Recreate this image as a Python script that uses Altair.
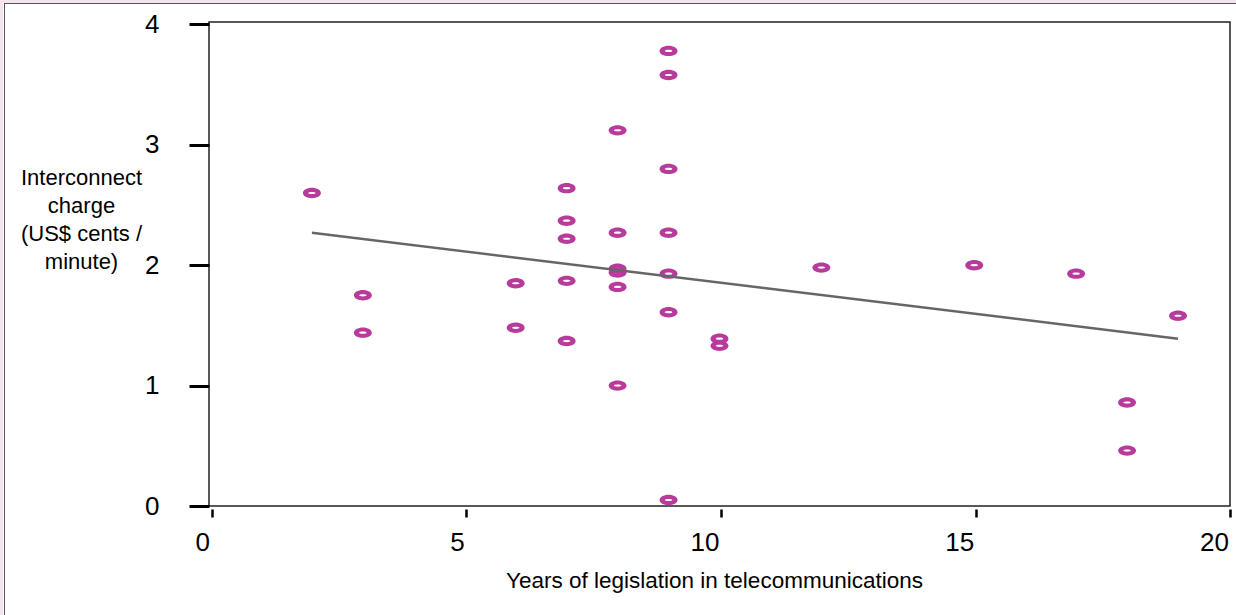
import altair as alt
import pandas as pd

# Values
years = [2, 3, 3, 6, 6, 7, 7, 7, 7, 7, 8, 8, 8, 8, 8, 8,
         9, 9, 9, 9, 9, 9, 9, 10, 10, 12, 15, 17, 18, 18, 19]
charge = [2.60, 1.75, 1.44, 1.85, 1.48, 2.64, 2.37, 2.22, 1.87, 1.37,
          3.12, 2.27, 1.97, 1.94, 1.82, 1.00,
          3.78, 3.58, 2.80, 2.27, 1.93, 1.61, 0.05,
          1.39, 1.33, 1.98, 2.00, 1.93, 0.86, 0.46, 1.58]
fit_years = [2, 19]
fit_charge = [2.27, 1.39]

x_ticks = [0, 5, 10, 15, 20]
y_ticks = [0, 1, 2, 3, 4]
x_title = "Years of legislation in telecommunications"
y_title = ["Interconnect", "charge", "(US$ cents /", "minute)"]

pts = pd.DataFrame({"years": years, "charge": charge})
fit = pd.DataFrame({"years": fit_years, "charge": fit_charge})
one = pd.DataFrame({"a": [0]})

FONT = "Liberation Sans"
xscale = alt.Scale(domain=[-0.02, 20.02], nice=False, zero=False)
yscale = alt.Scale(domain=[0, 4.02], nice=False)

xaxis = alt.Axis(values=x_ticks, title=x_title, domain=False, grid=False,
                 offset=3, tickSize=8, tickWidth=2.5, tickColor="#000000",
                 tickOffset=1.5,
                 labelAlign="right", labelOffset=-2, labelBaseline="top",
                 labelPadding=12, labelFontSize=26, labelColor="#000000",
                 labelFont=FONT, labelFlush=False, labelOverlap=False,
                 titleFont=FONT, titleFontSize=22.5, titleFontWeight="normal",
                 titleColor="#000000", titleX=505, titleY=78,
                 titleAlign="center", titleBaseline="alphabetic")
yaxis = alt.Axis(values=y_ticks, title=y_title, domain=False, grid=False,
                 format="d",
                 tickSize=20, tickWidth=3, tickColor="#000000",
                 labelPadding=30, labelFontSize=26, labelColor="#000000",
                 labelFont=FONT, labelBaseline="middle", labelFlush=False,
                 labelOverlap=False,
                 titleFont=FONT, titleFontSize=22, titleFontWeight="normal",
                 titleColor="#000000", titleAngle=0, titleAlign="center",
                 titleBaseline="alphabetic", titleX=-128, titleY=162,
                 titleLineHeight=28)

# filled elliptical ring (outer ellipse with a small inner hole drawn the other way)
ring = ("M-1,0A1,0.58,0,1,1,1,0A1,0.58,0,1,1,-1,0Z"
        "M-0.42,0A0.42,0.12,0,1,0,0.42,0A0.42,0.12,0,1,0,-0.42,0Z")

points = alt.Chart(pts).mark_point(
    shape=ring, size=324, filled=True, fill="#b83b9c", strokeWidth=0,
    opacity=1
).encode(
    x=alt.X("years:Q", scale=xscale, axis=xaxis),
    y=alt.Y("charge:Q", scale=yscale, axis=yaxis),
)

line = alt.Chart(fit).mark_line(color="#666666", strokeWidth=2.5).encode(
    x=alt.X("years:Q", scale=xscale),
    y=alt.Y("charge:Q", scale=yscale),
)

# decorative outer frame of the picture
top_band = alt.Chart(one).mark_rule(color="#f3e4ee", strokeWidth=3).encode(
    x=alt.value(-209), x2=alt.value(1027), y=alt.value(-20.5))
left_band = alt.Chart(one).mark_rule(color="#f3e4ee", strokeWidth=3).encode(
    x=alt.value(-207.5), y=alt.value(-22), y2=alt.value(593))
top_line = alt.Chart(one).mark_rule(color="#555555", strokeWidth=1).encode(
    x=alt.value(-205), x2=alt.value(1027), y=alt.value(-18.5))
left_line = alt.Chart(one).mark_rule(color="#555555", strokeWidth=1).encode(
    x=alt.value(-204.5), y=alt.value(-18.5), y2=alt.value(593))

chart = alt.layer(points, line, top_band, left_band, top_line, left_line).properties(
    width=1021, height=484,
    autosize=alt.AutoSizeParams(type="none"),
    padding={"left": 209, "top": 22, "right": 6, "bottom": 109},
    background="#ffffff",
).configure_view(
    stroke="#222222", strokeWidth=1.5
)

chart.save("out.html", embed_options={"renderer": "svg", "actions": False})
